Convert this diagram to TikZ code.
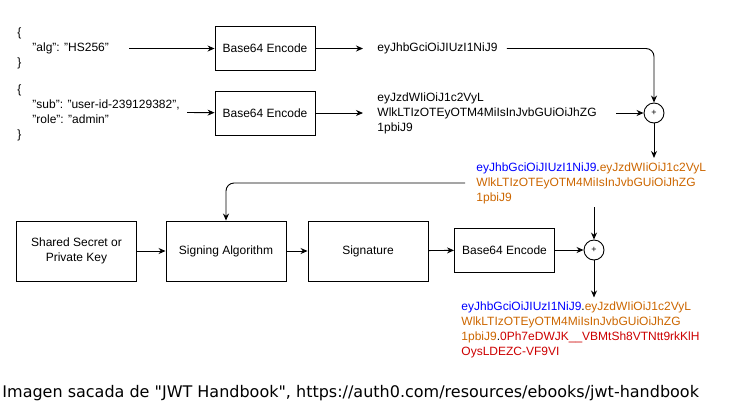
\documentclass[tikz,border=0pt]{standalone}
\usepackage{fontspec}
\setmainfont{Liberation Sans}
\newfontfamily\footfont{DejaVu Sans}
\usetikzlibrary{arrows.meta,positioning,calc}
\definecolor{hdrblue}{RGB}{0,0,255}
\definecolor{pldorange}{RGB}{204,102,0}
\definecolor{sigred}{RGB}{204,0,0}

\begin{document}
\begin{tikzpicture}[x=1pt, y=-1pt, >={Stealth[length=7pt,width=6pt]}, line width=0.9pt,
  block/.style={draw, minimum width=120pt, minimum height=60pt, align=center},
  enc block/.style={draw, minimum width=100pt, minimum height=44pt},
  plus node/.style={circle, draw, minimum size=20pt, inner sep=0pt, font=\fontsize{9}{10}\selectfont},
  tok/.style={anchor=west, align=left, inner sep=0pt}]
\useasboundingbox (0,0) rectangle (742,416);
\begin{scope}[every node/.style={font=\fontsize{12}{15}\selectfont}]
% header and payload
\node[tok] (json1) at (17,48.5) {\{\\\hspace*{15pt}"alg": "HS256"\\\}};
\node[tok] (json2) at (17,112.5) {\{\\\hspace*{15pt}"sub": "user-id-239129382",\\\hspace*{15pt}"role": "admin"\\\}};
\node[enc block] (enc1) at (265,48.5) {Base64 Encode};
\node[enc block] (enc2) at (265,113) {Base64 Encode};
\node[tok] (tok1) at (377,48.5) {eyJhbGciOiJIUzI1NiJ9};
\node[tok] (tok2) at (377,113) {eyJzdWIiOiJ1c2VyL\\WlkLTIzOTEyOTM4MiIsInJvbGUiOiJhZG\\1pbiJ9};
\node[plus node] (p1) at (654,113) {+};
\node[tok] (comb) at (476,183) {\textcolor{hdrblue}{eyJhbGciOiJIUzI1NiJ9}.\textcolor{pldorange}{eyJzdWIiOiJ1c2VyL}\\
  \textcolor{pldorange}{WlkLTIzOTEyOTM4MiIsInJvbGUiOiJhZG}\\\textcolor{pldorange}{1pbiJ9}};
% signing row
\node[block] (key) at (76.5,251) {Shared Secret or\\Private Key};
\node[block] (sign) at (226,251) {Signing Algorithm};
\node[block] (sig) at (368,251) {Signature};
\node[enc block] (enc3) at (504.5,250) {Base64 Encode};
\node[plus node] (p2) at (594,250) {+};
\node[tok] (final) at (461,330) {\textcolor{hdrblue}{eyJhbGciOiJIUzI1NiJ9}.\textcolor{pldorange}{eyJzdWIiOiJ1c2VyL}\\
  \textcolor{pldorange}{WlkLTIzOTEyOTM4MiIsInJvbGUiOiJhZG}\\
  \textcolor{pldorange}{1pbiJ9}.\textcolor{sigred}{0Ph7eDWJK\_\_VBMtSh8VTNtt9rkKlH}\\\textcolor{sigred}{OysLDEZC-VF9VI}};
\end{scope}
\node[anchor=west, inner sep=0pt, font=\footfont\fontsize{16}{19}\selectfont] (src) at (2,393)
  {Imagen sacada de "JWT Handbook", https://auth0.com/resources/ebooks/jwt-handbook};

\draw[->] ([xshift=20pt]json1.east) -- (enc1);
\draw[->] ([xshift=7pt]json2.east) -- (enc2);
\draw[->] (enc1) -- ([xshift=-14pt]tok1.west);
\draw[->] (enc2) -- ([xshift=-14pt]tok2.west);
\draw[->, rounded corners=8pt] ([xshift=9pt]tok1.east) -| (p1);
\draw[->] ([xshift=19pt]tok2.east) -- (p1);
\draw[->] (p1) -- ([yshift=4pt]p1 |- comb.north);
\draw[->, rounded corners=8pt] ([xshift=-11pt]comb.west) -| (sign.north);
\draw[->] ([yshift=-3pt]p2 |- comb.south) -- (p2);
\begin{scope}[every edge/.style={draw}]
\draw[->] (key) edge (sign);
\draw[->] (sign) edge (sig);
\draw[->] (sig) edge (enc3);
\draw[->] (enc3) edge (p2);
\end{scope}
\draw[->] (p2) -- ([yshift=4pt]p2 |- final.north);
\end{tikzpicture}
\end{document}
